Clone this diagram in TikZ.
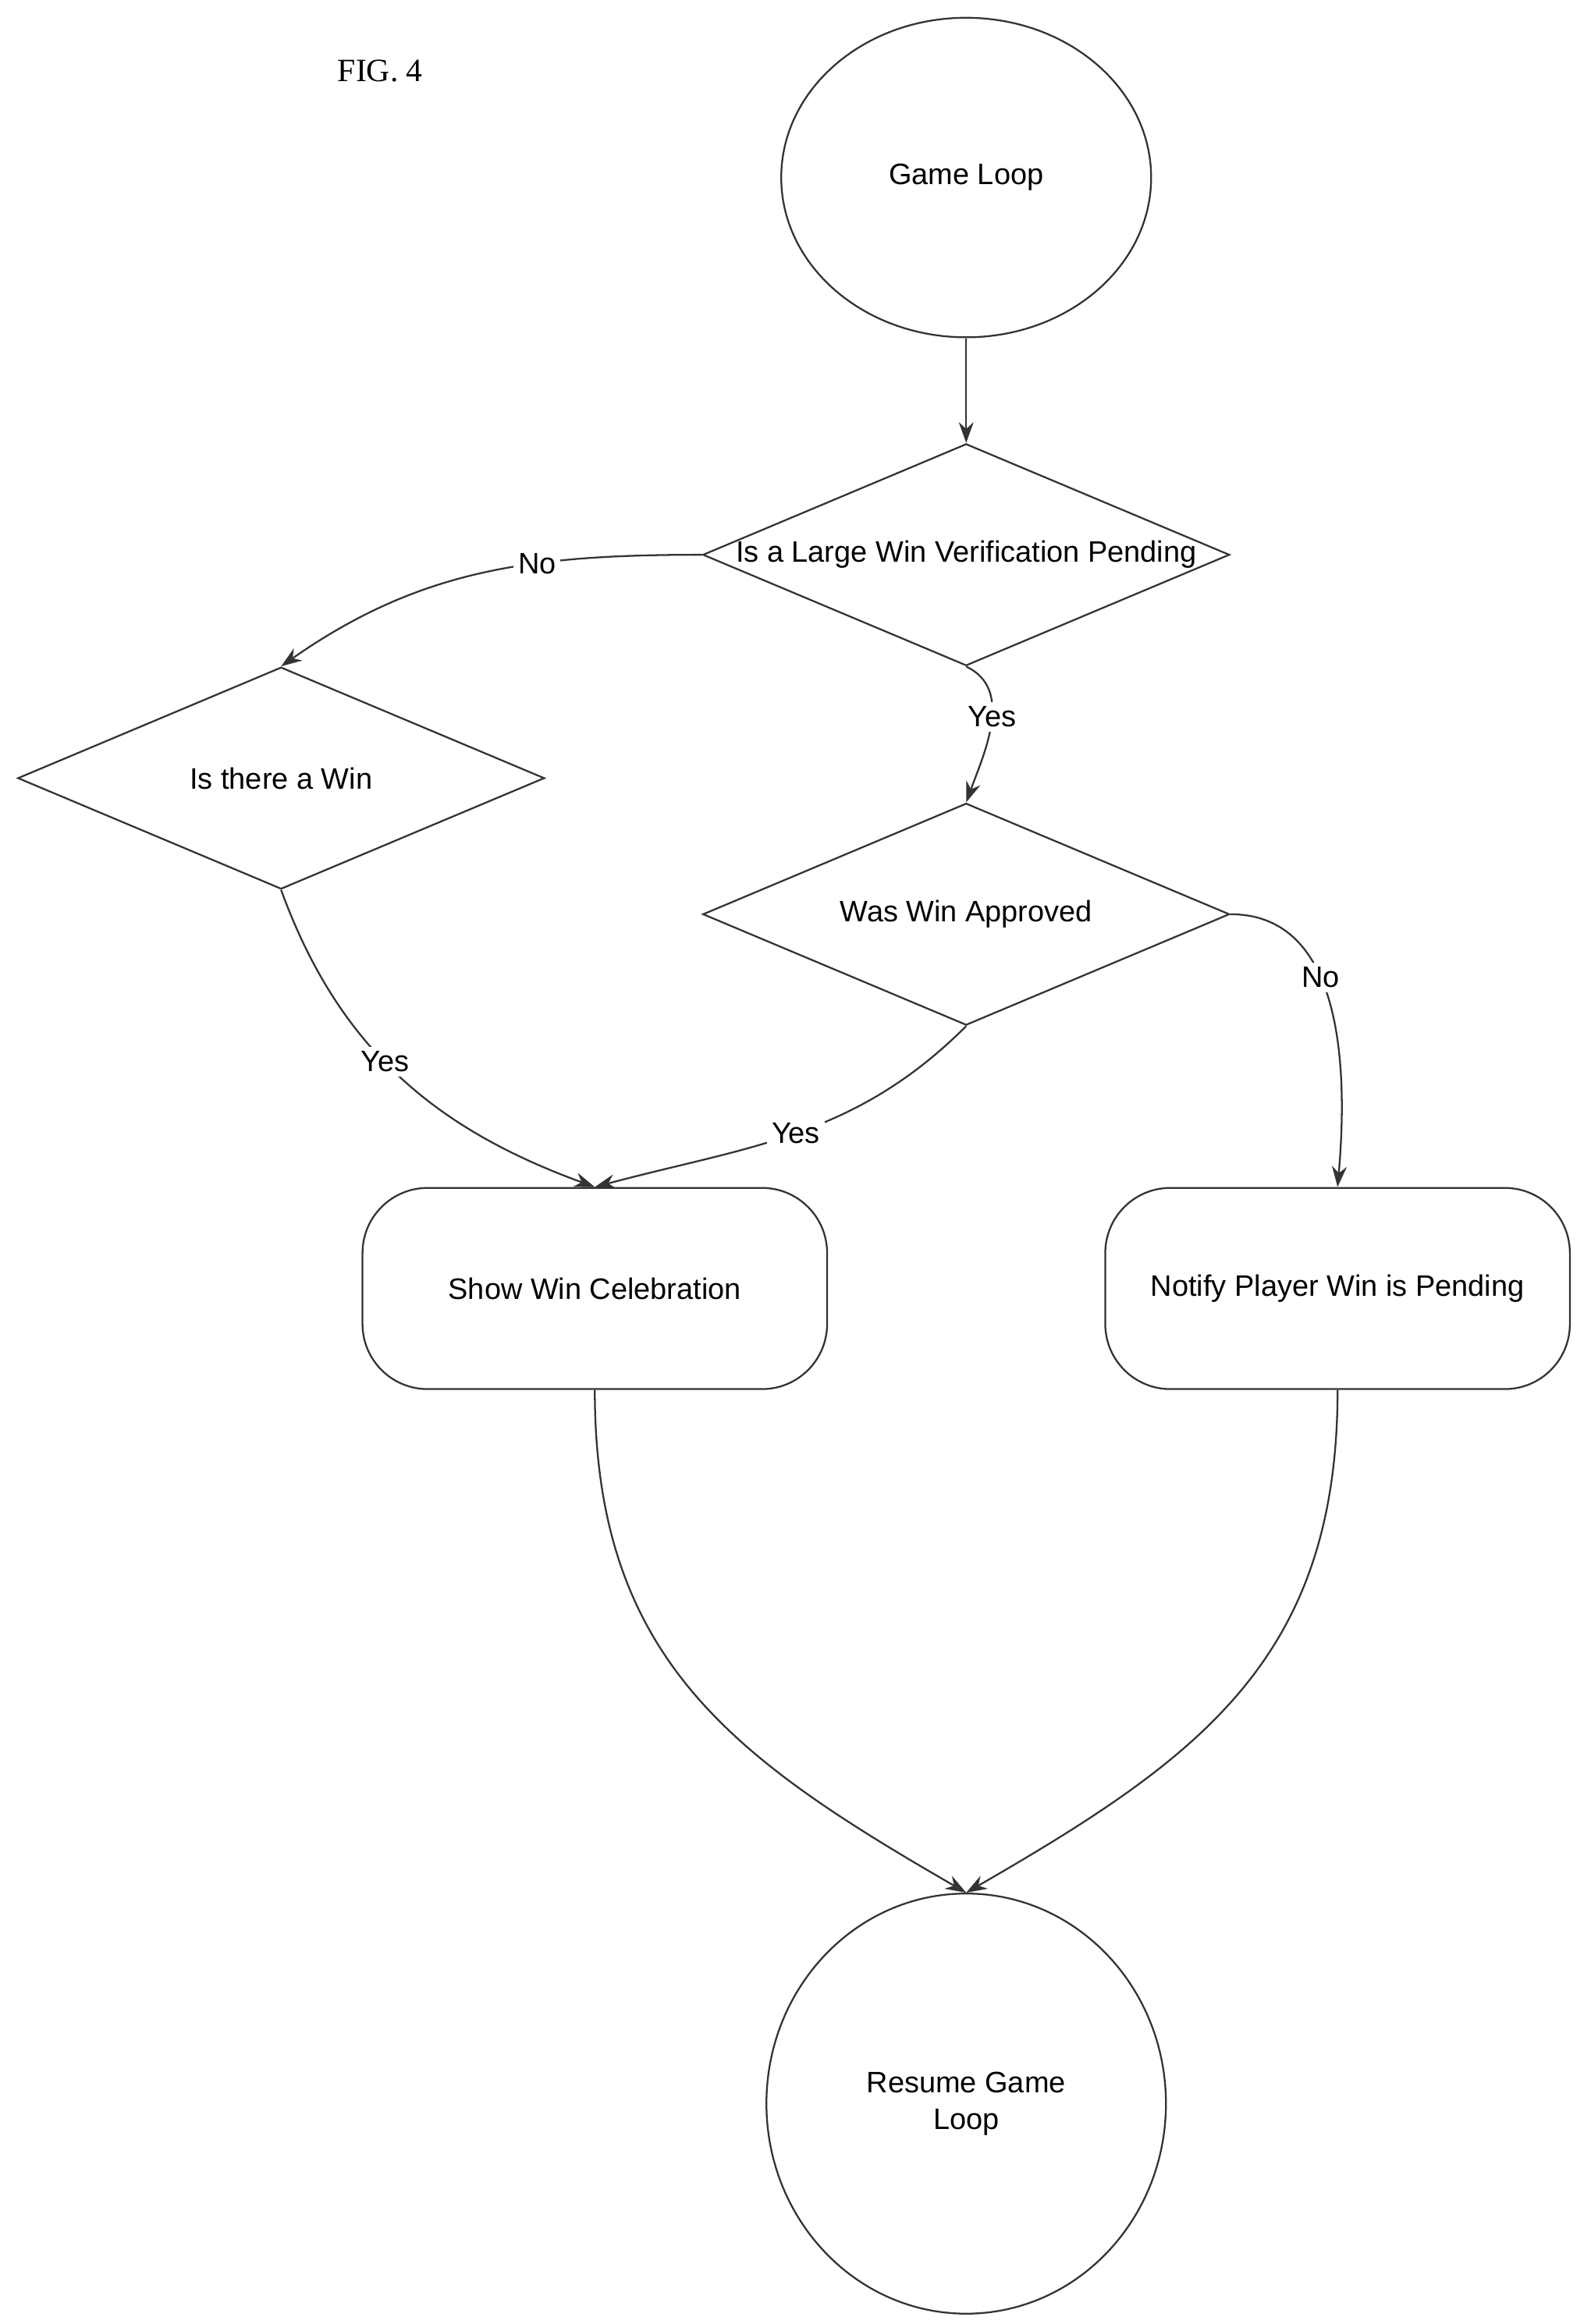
\documentclass[tikz,border=0pt]{standalone}
\usepackage{fontspec}
\setmainfont{Liberation Sans}
\newfontfamily\figfont{Liberation Serif}
\usetikzlibrary{shapes.geometric,positioning,arrows.meta}

\tikzset{
  flow/.style={draw=black!80, line width=0.6pt},
  arr/.style={flow, -{Stealth[length=7pt,width=5pt]}},
  term/.style={flow, ellipse, inner sep=0pt, align=center},
  decide/.style={flow, diamond, inner sep=0pt, minimum width=178pt, minimum height=75pt},
  act/.style={flow, rectangle, rounded corners=22pt, inner sep=0pt, minimum width=157pt, minimum height=68pt},
  lbl/.style={fill=white, inner sep=1.5pt}
}

\begin{document}
\begin{tikzpicture}[x=0.5pt,y=-0.5pt,font=\fontsize{10}{12.5}\selectfont]
\useasboundingbox (0,0) rectangle (1075,1571);

% Nodes
\node[font=\figfont\fontsize{11}{13}\selectfont] (fig) at (257,48) {FIG. 4};
\node[term, minimum width=125pt, minimum height=108pt] (loop) at (653,120) {Game Loop};
\node[decide] (pending) at (653,375) {\makebox[0pt]{Is a Large Win Verification Pending}};
\node[decide] (win) at (190,526) {\makebox[0pt]{Is there a Win}};
\node[decide] (approved) at (653,618) {\makebox[0pt]{Was Win Approved}};
\node[act] (show) at (402,871) {Show Win Celebration};
\node[act] (notify) at (904,871) {Notify Player Win is Pending};
\node[term, minimum width=135pt, minimum height=142pt] (resume) at (653,1422) {Resume Game\\Loop};

% Connectors
\draw[arr] (loop.south) -- (pending.north);
\draw[arr] (pending.west) to[out=180,in=35] node[lbl,pos=0.36] {No} (win.north);
\draw[arr] (pending.south) to[out=-25,in=70] node[lbl,pos=0.45] {Yes} (approved.north);
\draw[arr] (win.south) to[out=-70,in=160] node[lbl,pos=0.45] {Yes} (show.north);
\draw[arr] (approved.south) to[out=-135,in=15] node[lbl,pos=0.5] {Yes} (show.north);
\draw[arr] (approved.east) to[out=0,in=85] node[lbl,pos=0.4] {No} (notify.north);
\draw[arr] (show.south) to[out=-90,in=150,looseness=1.1] (resume.north);
\draw[arr] (notify.south) to[out=-90,in=30,looseness=1.1] (resume.north);

\end{tikzpicture}
\end{document}
